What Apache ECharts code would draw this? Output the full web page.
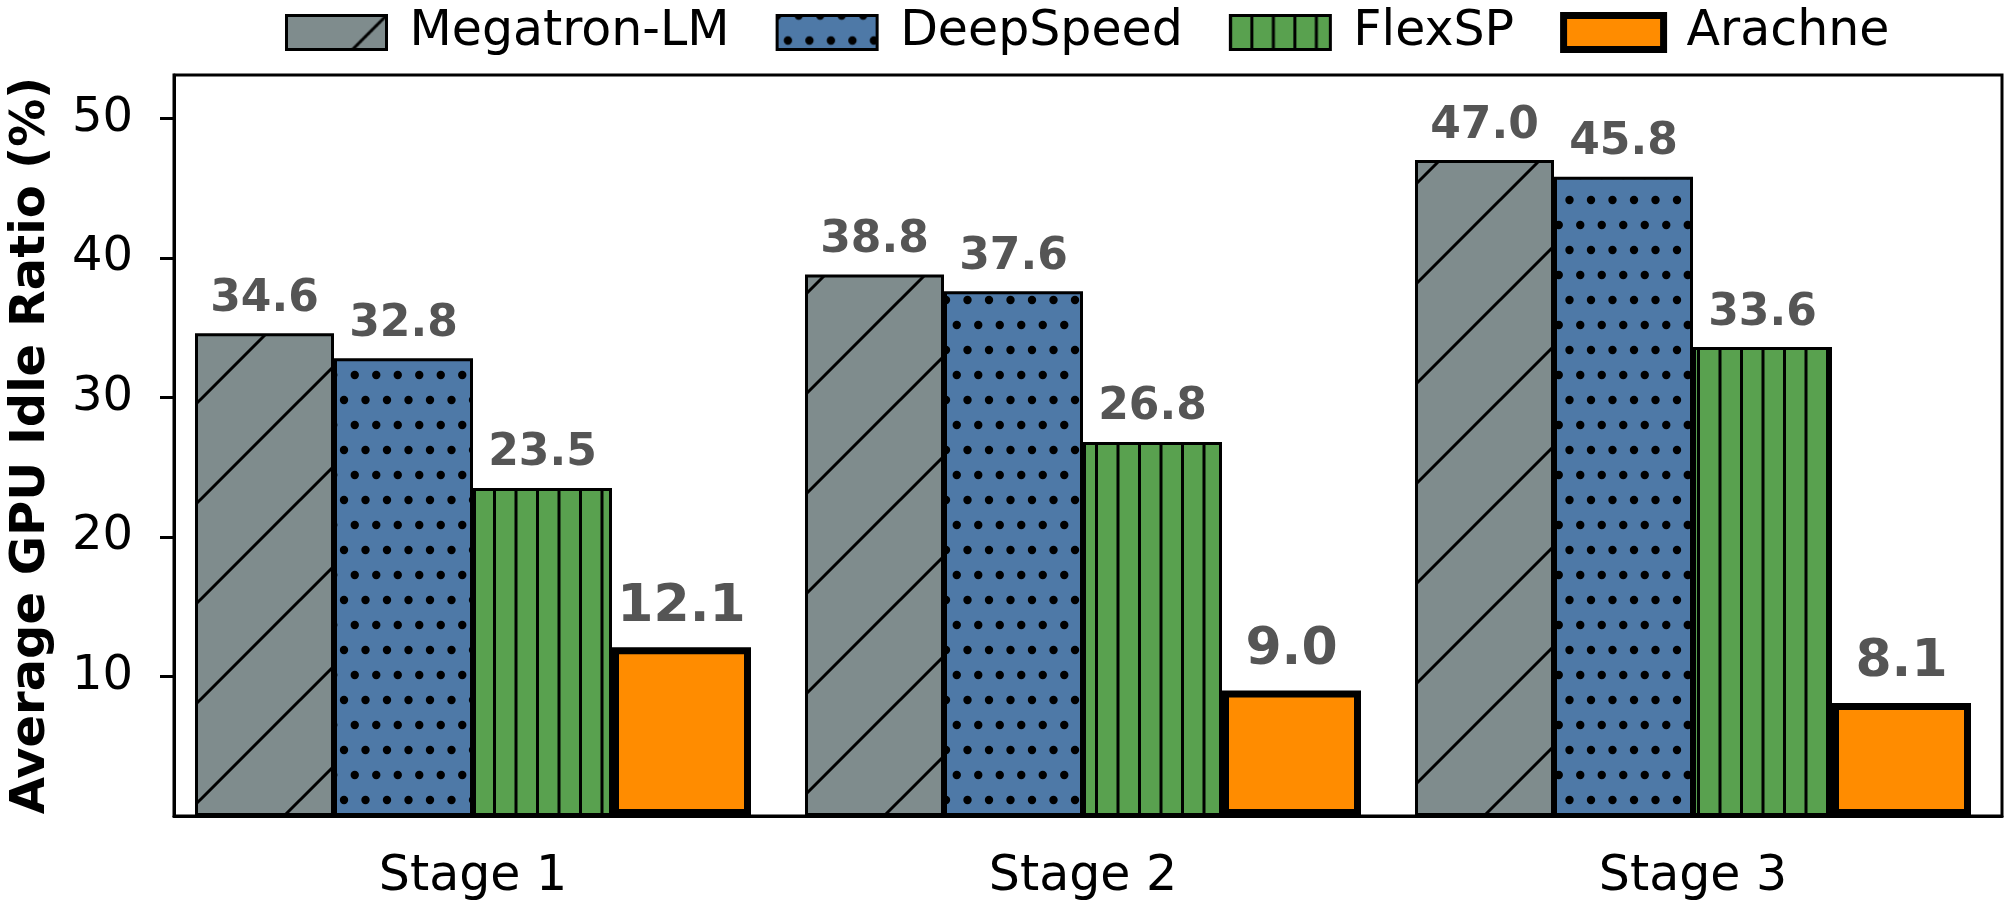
<!DOCTYPE html>
<html>
<head>
<meta charset="utf-8">
<title>Average GPU Idle Ratio</title>
<script src="https://cdn.jsdelivr.net/npm/echarts@6/dist/echarts.min.js"></script>
<style>
    html, body { margin: 0; padding: 0; background: #fff; }
    #chart1 { width: 2006px; height: 902px; }
</style>
</head>
<body>
<div id="chart1"></div>
<script>
// data
var stages = ['Stage 1', 'Stage 2', 'Stage 3'];
var megatron = [34.6, 38.8, 47.0];
var deepspeed = [32.8, 37.6, 45.8];
var flexsp = [23.5, 26.8, 33.6];
var arachne = [12.1, 9.0, 8.1];
var yTicks = [10, 20, 30, 40, 50];

var FONT = 'DejaVu Sans';

// hatch tiles drawn on a small canvas, used as a repeating fill
function makeHatch(kind, bg) {
    var c = document.createElement('canvas');
    var ctx;
    if (kind == '/') {
        c.width = 100; c.height = 100;
        ctx = c.getContext('2d');
        ctx.fillStyle = bg;
        ctx.fillRect(0, 0, 100, 100);
        ctx.strokeStyle = '#000';
        ctx.lineWidth = 3;
        ctx.beginPath();
        ctx.moveTo(-10, 110); ctx.lineTo(110, -10);
        ctx.moveTo(-10, 10); ctx.lineTo(10, -10);
        ctx.moveTo(90, 110); ctx.lineTo(110, 90);
        ctx.stroke();
    } else if (kind == '.') {
        c.width = 43; c.height = 50;
        ctx = c.getContext('2d');
        ctx.fillStyle = bg;
        ctx.fillRect(0, 0, 43, 50);
        ctx.fillStyle = '#000';
        var pts = [[0, 0], [21.5, 0], [43, 0], [0, 50], [21.5, 50], [43, 50],
                   [10.75, 25], [32.25, 25]];
        for (var i = 0; i < pts.length; i++) {
            ctx.beginPath();
            ctx.arc(pts[i][0], pts[i][1], 4.2, 0, Math.PI * 2);
            ctx.fill();
        }
    } else if (kind == '|') {
        c.width = 43; c.height = 10;
        ctx = c.getContext('2d');
        ctx.fillStyle = bg;
        ctx.fillRect(0, 0, 43, 10);
        ctx.fillStyle = '#000';
        ctx.fillRect(0, 0, 1.5, 10);
        ctx.fillRect(41.5, 0, 1.5, 10);
        ctx.fillRect(20, 0, 3, 10);
    }
    return { image: c, repeat: 'repeat' };
}

var _chart1 = null;
function initChart1() {
    _chart1 = echarts.init(document.getElementById('chart1'), null, { renderer: 'canvas' });

    var valLabel = {
        show: true,
        position: 'top',
        distance: 12,
        color: '#555555',
        fontFamily: FONT,
        fontWeight: 'bold',
        fontSize: 44,
        formatter: function (p) { return p.value.toFixed(1); }
    };

    function barSeries(name, data, fill, bw) {
        return {
            name: name,
            type: 'bar',
            xAxisIndex: 1,
            yAxisIndex: 1,
            barWidth: 139,
            barGap: '0%',
            data: data,
            itemStyle: { color: fill, borderColor: '#000', borderWidth: bw },
            label: valLabel
        };
    }

    var sArachne = barSeries('Arachne', arachne, '#ff8c00', 7);
    sArachne.label = Object.assign({}, valLabel, { fontSize: 52, distance: 14 });

    var option = {
        animation: false,
        backgroundColor: '#fff',
        textStyle: { fontFamily: FONT },
        legend: {
            left: 280,
            top: 3,
            icon: 'rect',
            itemWidth: 100,
            itemHeight: 34,
            itemGap: 46,
            textStyle: { fontFamily: FONT, fontSize: 49, color: '#000', padding: [0, 0, 0, 18] },
            data: [
                { name: 'Megatron-LM', itemStyle: { borderWidth: 3, borderColor: '#000' } },
                { name: 'DeepSpeed', itemStyle: { borderWidth: 3, borderColor: '#000' } },
                { name: 'FlexSP', itemStyle: { borderWidth: 3, borderColor: '#000' } },
                { name: 'Arachne', itemStyle: { borderWidth: 7, borderColor: '#000' } }
            ]
        },
        // grid 0 carries the frame and the y axis, grid 1 places the bars
        grid: [
            { left: 161, right: 4, top: 75, bottom: 86, show: true, borderColor: '#000', borderWidth: 3 },
            { left: 168, right: 8, top: 75, bottom: 86 }
        ],
        xAxis: [
            {
                type: 'category',
                gridIndex: 0,
                data: stages,
                axisLine: { lineStyle: { color: '#000', width: 3 } },
                axisTick: { show: false },
                axisLabel: { show: false }
            },
            {
                type: 'category',
                gridIndex: 1,
                data: stages,
                axisLine: { show: false },
                axisTick: { alignWithLabel: true, length: 14, lineStyle: { color: '#000', width: 3 } },
                axisLabel: { color: '#000', fontSize: 49, fontFamily: FONT, margin: 37 }
            }
        ],
        yAxis: [
            {
                type: 'value',
                gridIndex: 0,
                min: 0,
                max: 53.1,
                interval: 10,
                name: 'Average GPU Idle Ratio (%)',
                nameLocation: 'middle',
                nameGap: 118,
                nameTextStyle: { fontFamily: FONT, fontSize: 48, fontWeight: 'bold', color: '#000' },
                splitLine: { show: false },
                axisLine: { show: true, lineStyle: { color: '#000', width: 3 } },
                axisTick: { show: true, length: 14, customValues: yTicks, lineStyle: { color: '#000', width: 3 } },
                axisLabel: { color: '#000', fontSize: 48, fontFamily: FONT, margin: 41, customValues: yTicks }
            },
            {
                type: 'value',
                gridIndex: 1,
                min: 0,
                max: 53.1,
                show: false,
                splitLine: { show: false }
            }
        ],
        series: [
            barSeries('Megatron-LM', megatron, makeHatch('/', '#7f8c8d'), 3),
            barSeries('DeepSpeed', deepspeed, makeHatch('.', '#4e79a7'), 3),
            barSeries('FlexSP', flexsp, makeHatch('|', '#59a14f'), 3),
            sArachne
        ]
    };

    _chart1.setOption(option);
}
initChart1();
</script>
</body>
</html>
